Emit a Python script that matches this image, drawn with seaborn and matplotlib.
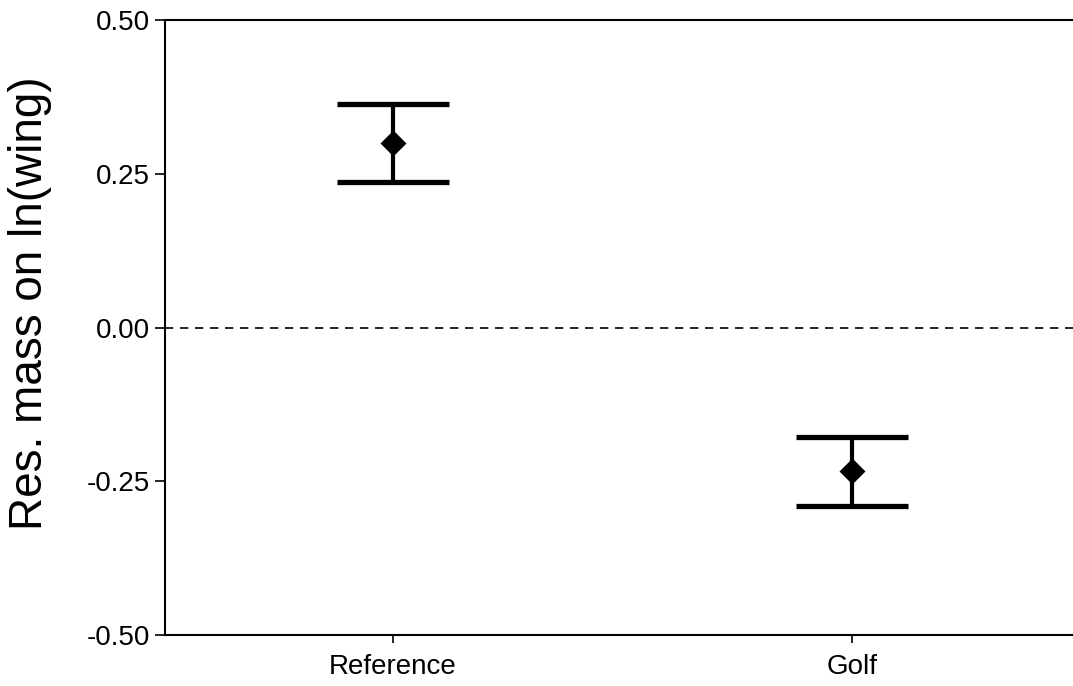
import matplotlib
matplotlib.use('Agg')
import matplotlib.pyplot as plt
import seaborn as sns
import pandas as pd

# values
groups = ['Reference', 'Golf']
means = [0.300, -0.234]
errors = [0.064, 0.056]
y_ticks = [-0.50, -0.25, 0.00, 0.25, 0.50]

df = pd.DataFrame({'group': groups, 'mean': means, 'err': errors})

sns.set_style('ticks', {'text.color': 'black', 'xtick.color': 'black',
                        'ytick.color': 'black', 'axes.labelcolor': 'black'})
plt.rcParams['font.family'] = ['Liberation Sans', 'DejaVu Sans']

fig = plt.figure(figsize=(10.73, 6.86), dpi=100)
ax = fig.add_axes([0.1538, 0.0743, 0.8462, 0.8965])

# zero reference line
ax.axhline(0, color='black', lw=1.2, ls=(0, (5, 4)), zorder=1)

# error bars (mean +/- error)
ax.errorbar(df['group'], df['mean'], yerr=df['err'], fmt='none',
            ecolor='black', elinewidth=3, capsize=40, capthick=3.8, zorder=2)

# mean markers
sns.pointplot(data=df, x='group', y='mean', errorbar=None, linestyle='none',
              markers='D', color='black', markersize=11, ax=ax, zorder=3)

ax.set_xlim(-0.495, 1.48)
ax.set_ylim(-0.5, 0.5)
ax.set_yticks(y_ticks)
ax.set_yticklabels([f'{v:.2f}' for v in y_ticks])
ax.set_xlabel('')
ax.set_ylabel('Res. mass on ln(wing)', fontsize=33)
ax.yaxis.set_label_coords(-0.125, 0.54)

for side in ['left', 'bottom', 'top']:
    ax.spines[side].set_linewidth(1.5)
    ax.spines[side].set_color('black')
ax.spines['right'].set_visible(False)

ax.tick_params(axis='y', labelsize=20, length=7, width=1.2, direction='out',
               pad=4, colors='black')
ax.tick_params(axis='x', labelsize=20, length=6, width=1.2, direction='out',
               pad=8, colors='black')

fig.savefig('out.png', dpi=100)
